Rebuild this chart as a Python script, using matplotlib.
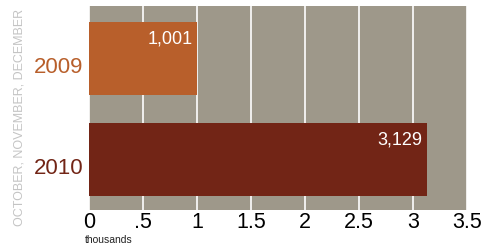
import matplotlib
matplotlib.use("Agg")
import matplotlib.pyplot as plt

years = ["2009", "2010"]
values = [1.001, 3.129]
value_labels = ["1,001", "3,129"]
bar_colors = ["#B85F2B", "#722516"]
xticks = [0, 0.5, 1, 1.5, 2, 2.5, 3, 3.5]
xtick_labels = ["0", ".5", "1", "1.5", "2", "2.5", "3", "3.5"]

font = "Liberation Sans"

fig = plt.figure(figsize=(4.95, 2.51), dpi=100)
ax = fig.add_axes([89/495, 1 - 211/251, 378/495, 204/251])
ax.set_facecolor("#9E988A")
ypos = list(range(len(years)))
ax.barh(ypos, values, height=0.72, color=bar_colors, zorder=3)
ax.set_xlim(0, 3.5)
ax.set_ylim(1.5, -0.52)
ax.set_xticks(xticks)
ax.set_xticklabels(xtick_labels, fontsize=15.5, family=font)
ax.tick_params(axis="x", length=0, pad=1)
ax.set_yticks([])
for s in ax.spines.values():
    s.set_visible(False)
ax.grid(axis="x", color="white", linewidth=1.2, zorder=1)

for y, v, lab in zip(ypos, values, value_labels):
    ax.annotate(lab, (v, y - 0.36), xytext=(-3, -5), textcoords="offset points",
                ha="right", va="top", color="white", fontsize=13, family=font, zorder=4)

for y, lab, c in zip(ypos, years, bar_colors):
    ax.annotate(lab, (0, y), xytext=(-4, -6), textcoords="offset points",
                ha="right", va="center", color=c, fontsize=16, family=font)

fig.text(20/495, 1 - 117/251, "OCTOBER, NOVEMBER, DECEMBER", rotation=90,
         ha="center", va="center", color="#C4C4C4", fontsize=9, family=font)
fig.text(85/495, 1 - 240/251, "thousands", ha="left", va="center",
         color="#222222", fontsize=7.5, family=font)

fig.savefig("out.png", dpi=100)
